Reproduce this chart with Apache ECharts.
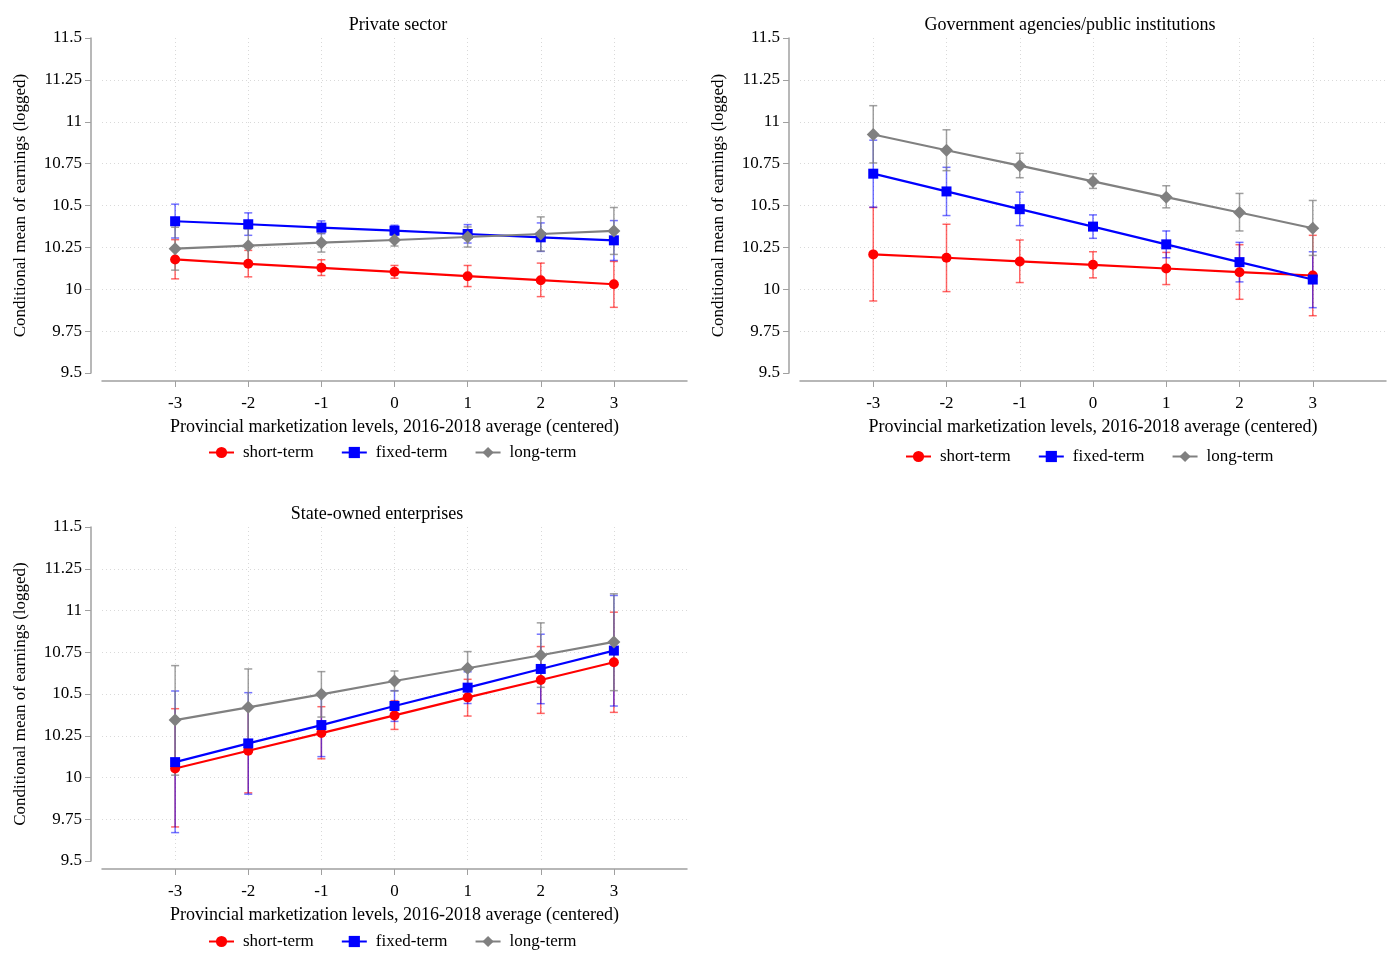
<!DOCTYPE html>
<html>
<head>
<meta charset="utf-8">
<script src="https://cdn.jsdelivr.net/npm/echarts@6/dist/echarts.min.js"></script>
<style>
  html, body { margin: 0; padding: 0; background: #fff; }
  #main { width: 1400px; height: 980px; }
</style>
</head>
<body>
<div id="main"></div>
<script>
// marketization levels (centered)
const levels = [-3, -2, -1, 0, 1, 2, 3];
const contractNames = ['short-term', 'fixed-term', 'long-term'];
const panelTitles = ['Private sector', 'Government agencies/public institutions', 'State-owned enterprises'];
const xAxisTitle = 'Provincial marketization levels, 2016-2018 average (centered)';
const yAxisTitle = 'Conditional mean of earnings (logged)';

// Private sector
const privShort   = [10.178, 10.152, 10.128, 10.104, 10.078, 10.054, 10.030];
const privShortLo = [10.062, 10.074, 10.082, 10.066, 10.016, 9.956, 9.892];
const privShortHi = [10.296, 10.232, 10.176, 10.142, 10.142, 10.156, 10.166];
const privFixed   = [10.406, 10.388, 10.368, 10.350, 10.330, 10.310, 10.292];
const privFixedLo = [10.306, 10.322, 10.332, 10.322, 10.276, 10.226, 10.172];
const privFixedHi = [10.508, 10.456, 10.408, 10.382, 10.386, 10.396, 10.410];
const privLong    = [10.242, 10.260, 10.278, 10.294, 10.312, 10.330, 10.348];
const privLongLo  = [10.114, 10.160, 10.222, 10.258, 10.252, 10.228, 10.208];
const privLongHi  = [10.370, 10.360, 10.334, 10.330, 10.372, 10.432, 10.488];

// Government agencies/public institutions
const govShort   = [10.208, 10.188, 10.166, 10.146, 10.124, 10.102, 10.082];
const govShortLo = [9.930, 9.986, 10.040, 10.068, 10.028, 9.940, 9.842];
const govShortHi = [10.488, 10.388, 10.294, 10.224, 10.220, 10.266, 10.322];
const govFixed   = [10.690, 10.584, 10.478, 10.374, 10.268, 10.162, 10.058];
const govFixedLo = [10.490, 10.440, 10.380, 10.304, 10.188, 10.044, 9.890];
const govFixedHi = [10.890, 10.728, 10.580, 10.444, 10.348, 10.280, 10.224];
const govLong    = [10.924, 10.830, 10.738, 10.644, 10.550, 10.458, 10.364];
const govLongLo  = [10.754, 10.708, 10.666, 10.602, 10.486, 10.348, 10.202];
const govLongHi  = [11.096, 10.952, 10.812, 10.690, 10.618, 10.572, 10.530];

// State-owned enterprises
const soeShort   = [10.054, 10.160, 10.266, 10.372, 10.480, 10.584, 10.690];
const soeShortLo = [9.704, 9.908, 10.112, 10.288, 10.368, 10.384, 10.390];
const soeShortHi = [10.412, 10.414, 10.424, 10.460, 10.588, 10.784, 10.990];
const soeFixed   = [10.092, 10.204, 10.314, 10.428, 10.538, 10.650, 10.760];
const soeFixedLo = [9.670, 9.900, 10.125, 10.336, 10.443, 10.442, 10.428];
const soeFixedHi = [10.518, 10.508, 10.500, 10.520, 10.633, 10.858, 11.090];
const soeLong    = [10.344, 10.420, 10.498, 10.578, 10.654, 10.732, 10.812];
const soeLongLo  = [10.014, 10.190, 10.362, 10.518, 10.554, 10.540, 10.520];
const soeLongHi  = [10.670, 10.650, 10.634, 10.638, 10.754, 10.926, 11.100];

const FONT = 'Liberation Serif';
const colors = ['#ff0000', '#0000ff', '#808080'];
const barColors = ['rgba(255,0,0,0.6)', 'rgba(0,0,255,0.55)', 'rgba(128,128,128,0.75)'];
const symbols = ['circle', 'rect', 'diamond'];
const symbolSizes = [10, 10, 13];

const panels = [
  { grid: { left: 102, top: 38, width: 585, height: 335 }, title: [398, 25], legend: [203, 439],
    lines: [[privShort, privShortLo, privShortHi], [privFixed, privFixedLo, privFixedHi], [privLong, privLongLo, privLongHi]] },
  { grid: { left: 800, top: 38, width: 586, height: 335 }, title: [1070, 25], legend: [900, 443],
    lines: [[govShort, govShortLo, govShortHi], [govFixed, govFixedLo, govFixedHi], [govLong, govLongLo, govLongHi]] },
  { grid: { left: 102, top: 527, width: 585, height: 334 }, title: [377, 514], legend: [203, 928],
    lines: [[soeShort, soeShortLo, soeShortHi], [soeFixed, soeFixedLo, soeFixedHi], [soeLong, soeLongLo, soeLongHi]] }
];

function errorBars(color) {
  return function (params, api) {
    const x = api.value(0);
    const lo = api.coord([x, api.value(1)]);
    const hi = api.coord([x, api.value(2)]);
    const cap = 4;
    const style = { stroke: color, lineWidth: 1.5 };
    return {
      type: 'group',
      children: [
        { type: 'line', shape: { x1: lo[0], y1: lo[1], x2: hi[0], y2: hi[1] }, style: style },
        { type: 'line', shape: { x1: hi[0] - cap, y1: hi[1], x2: hi[0] + cap, y2: hi[1] }, style: style },
        { type: 'line', shape: { x1: lo[0] - cap, y1: lo[1], x2: lo[0] + cap, y2: lo[1] }, style: style }
      ]
    };
  };
}

const grids = [], xAxes = [], yAxes = [], series = [], legends = [], graphics = [];
const dotted = { color: '#d9d9d9', type: [1, 3], width: 1 };

panels.forEach(function (p, k) {
  grids.push(p.grid);
  xAxes.push({
    type: 'value', gridIndex: k, min: -4, max: 4, interval: 1, offset: 8,
    name: xAxisTitle, nameLocation: 'middle', nameGap: 37,
    nameTextStyle: { fontFamily: FONT, fontSize: 18, color: '#000' },
    axisLine: { show: true, onZero: false, lineStyle: { color: '#a0a0a0', width: 1.5 } },
    axisTick: { show: true, length: 6, customValues: levels, lineStyle: { color: '#a0a0a0' } },
    axisLabel: { margin: 14, customValues: levels, fontFamily: FONT, fontSize: 17, color: '#000' },
    splitLine: { show: true, lineStyle: dotted }
  });
  yAxes.push({
    type: 'value', gridIndex: k, min: 9.5, max: 11.5, interval: 0.25, offset: 11,
    name: yAxisTitle, nameLocation: 'middle', nameGap: 62,
    nameTextStyle: { fontFamily: FONT, fontSize: 17, color: '#000' },
    axisLine: { show: true, onZero: false, lineStyle: { color: '#a0a0a0', width: 1.5 } },
    axisTick: { show: true, length: 6, lineStyle: { color: '#a0a0a0' } },
    axisLabel: { margin: 9, fontFamily: FONT, fontSize: 17, color: '#000' },
    splitLine: { show: true, showMinLine: false, showMaxLine: false, lineStyle: dotted }
  });
  p.lines.forEach(function (ln, j) {
    const [mean, lo, hi] = ln;
    series.push({
      type: 'custom', xAxisIndex: k, yAxisIndex: k, z: 1,
      renderItem: errorBars(barColors[j]),
      data: levels.map(function (x, i) { return [x, lo[i], hi[i]]; })
    });
  });
  p.lines.forEach(function (ln, j) {
    series.push({
      type: 'line', name: contractNames[j], xAxisIndex: k, yAxisIndex: k, z: 3,
      symbol: symbols[j], symbolSize: symbolSizes[j],
      color: colors[j], lineStyle: { width: 2.2, color: colors[j] },
      itemStyle: { color: colors[j] },
      data: levels.map(function (x, i) { return [x, ln[0][i]]; })
    });
  });
  legends.push({
    left: p.legend[0], top: p.legend[1], orient: 'horizontal',
    data: contractNames, itemWidth: 25, itemHeight: 14, itemGap: 27,
    textStyle: { fontFamily: FONT, fontSize: 17, color: '#000', padding: [0, 0, 0, 4] }
  });
  graphics.push({
    type: 'text', x: p.title[0], y: p.title[1],
    style: { text: panelTitles[k], font: '18px "' + FONT + '"', fill: '#000', align: 'center', verticalAlign: 'middle' }
  });
});

const chart = echarts.init(document.getElementById('main'));
chart.setOption({
  backgroundColor: '#fff',
  animation: false,
  grid: grids,
  xAxis: xAxes,
  yAxis: yAxes,
  legend: legends,
  graphic: graphics,
  series: series
});
</script>
</body>
</html>
